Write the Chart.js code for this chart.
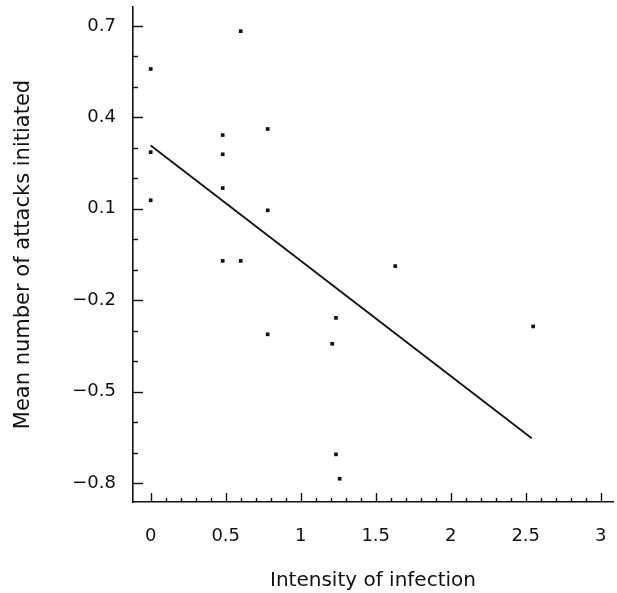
<!DOCTYPE html>
<html>
<head>
<meta charset="utf-8">
<script src="https://cdn.jsdelivr.net/npm/chart.js@4/dist/chart.umd.min.js"></script>
<style>
  html, body { margin: 0; padding: 0; background: #fff; }
  canvas { display: block; }
</style>
</head>
<body>
<canvas id="c" width="617" height="593"></canvas>
<script>
// ---- data ----
const intensity = [0, 0, 0, 0.48, 0.48, 0.48, 0.48, 0.6, 0.6, 0.78, 0.78, 0.78, 1.21, 1.235, 1.235, 1.26, 1.63, 2.55];
const meanAttacks = [0.559, 0.286, 0.128, 0.342, 0.279, 0.168, -0.071, 0.683, -0.071, 0.362, 0.095, -0.312, -0.343, -0.258, -0.706, -0.786, -0.088, -0.286];
const fitX = [0, 2.54];
const fitY = [0.308, -0.653];
const xTicks = [0, 0.5, 1, 1.5, 2, 2.5, 3];
const xTickLabels = ['0', '0.5', '1', '1.5', '2', '2.5', '3'];
const yTicks = [-0.8, -0.5, -0.2, 0.1, 0.4, 0.7];
const yTickLabels = ['\u22120.8', '\u22120.5', '\u22120.2', '0.1', '0.4', '0.7'];
const xTitle = 'Intensity of infection';
const yTitle = 'Mean number of attacks initiated';

const INK = '#111';
const FONT = 'DejaVu Sans';

const points = intensity.map((x, i) => ({ x: x, y: meanAttacks[i] }));
const fitLine = fitX.map((x, i) => ({ x: x, y: fitY[i] }));

function zeroPad(s) {
  s.paddingLeft = 0; s.paddingRight = 0; s.paddingTop = 0; s.paddingBottom = 0;
}

// minor/major inward tick marks drawn through the chart's own scales
const tickMarks = {
  id: 'tickMarks',
  afterDraw(chart) {
    const ctx = chart.ctx;
    const xs = chart.scales.x, ys = chart.scales.y;
    const area = chart.chartArea;
    ctx.save();
    ctx.strokeStyle = INK;
    ctx.lineWidth = 1.4;
    for (let k = -8; k <= 7; k++) {
      const v = k / 10;
      const major = yTicks.some(t => Math.abs(t - v) < 1e-9);
      const py = Math.round(ys.getPixelForValue(v)) + 0.5;
      ctx.beginPath();
      ctx.moveTo(area.left, py);
      ctx.lineTo(area.left + (major ? 10 : 5), py);
      ctx.stroke();
    }
    for (let k = 0; k <= 30; k++) {
      const v = k / 10;
      const major = xTicks.some(t => Math.abs(t - v) < 1e-9);
      const px = Math.round(xs.getPixelForValue(v)) + 0.5;
      ctx.beginPath();
      ctx.moveTo(px, area.bottom);
      ctx.lineTo(px, area.bottom - (major ? 9 : 4));
      ctx.stroke();
    }
    ctx.restore();
  }
};

new Chart(document.getElementById('c'), {
  type: 'scatter',
  data: {
    datasets: [
      {
        data: points,
        pointStyle: 'rect',
        pointRadius: 2.6,
        pointBorderWidth: 0,
        backgroundColor: INK,
        borderColor: INK
      },
      {
        data: fitLine,
        showLine: true,
        borderColor: INK,
        borderWidth: 1.8,
        pointRadius: 0,
        fill: false
      }
    ]
  },
  options: {
    responsive: false,
    animation: false,
    events: [],
    layout: { padding: { left: 0, right: 4, top: 7, bottom: 0 } },
    plugins: { legend: { display: false }, tooltip: { enabled: false } },
    scales: {
      x: {
        type: 'linear',
        min: -0.118,
        max: 3.082,
        afterBuildTicks: (s) => { s.ticks = xTicks.map(v => ({ value: v })); },
        afterFit: (s) => { s.height = 91; zeroPad(s); },
        grid: { display: false, drawTicks: false },
        border: { display: true, color: INK, width: 1.6 },
        ticks: {
          autoSkip: false,
          maxRotation: 0,
          padding: 24,
          color: INK,
          font: { family: FONT, size: 18 },
          callback: (v, i) => xTickLabels[i]
        },
        title: {
          display: true,
          text: xTitle,
          color: INK,
          font: { family: FONT, size: 20, lineHeight: 1.2 },
          padding: { top: 0, bottom: 0.5 }
        }
      },
      y: {
        type: 'linear',
        min: -0.8624,
        max: 0.7624,
        afterBuildTicks: (s) => { s.ticks = yTicks.map(v => ({ value: v })); },
        afterFit: (s) => { s.width = 133; zeroPad(s); },
        grid: { display: false, drawTicks: false },
        border: { display: true, color: INK, width: 1.6 },
        ticks: {
          autoSkip: false,
          padding: 17,
          color: INK,
          font: { family: FONT, size: 18 },
          callback: (v, i) => yTickLabels[i]
        },
        title: {
          display: true,
          text: yTitle,
          color: INK,
          font: { family: FONT, size: 21, lineHeight: 1.2 },
          padding: { top: 11, bottom: 0 }
        }
      }
    }
  },
  plugins: [tickMarks]
});
</script>
</body>
</html>
